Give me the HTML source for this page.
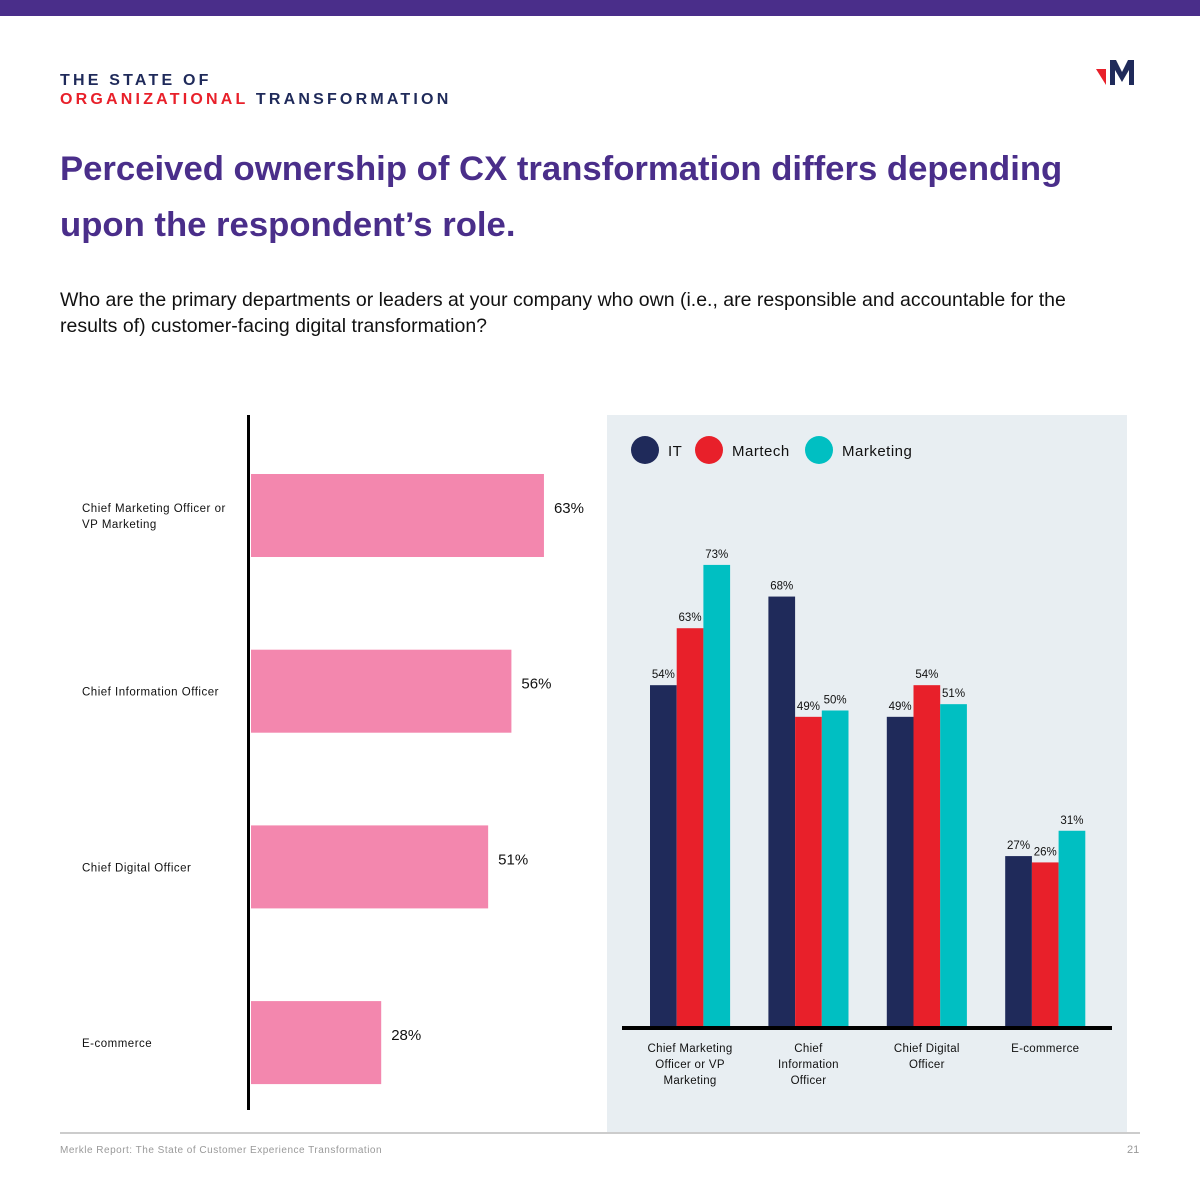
<!DOCTYPE html>
<html><head><meta charset="utf-8"><style>
body{margin:0;width:1200px;height:1200px;background:#fff;font-family:"Liberation Sans",sans-serif;position:relative;overflow:hidden}
.a{position:absolute}
</style></head><body>
<div class="a" style="left:0;top:0;width:1200px;height:16px;background:#4a2e8a"></div>
<div class="a" style="left:60px;top:71px;font-weight:bold;font-size:16px;letter-spacing:3.2px;color:#1f2a5a;line-height:19px">THE STATE OF<br><span style="color:#e8202a">ORGANIZATIONAL</span> TRANSFORMATION</div>
<svg class="a" style="left:1096px;top:60px" width="46" height="26"><polygon points="0,9 10,9 10,25" fill="#e8202a"/><polygon points="14,0 20,0 26,12 32,0 38,0 38,25 33,25 33,10 26,22 19,10 19,25 14,25" fill="#1f2a5a"/></svg>
<div class="a" style="left:60px;top:141px;width:1060px;font-weight:bold;font-size:34.7px;line-height:56px;color:#4a2e8a">Perceived ownership of CX transformation differs depending upon the respondent’s role.</div>
<div class="a" style="left:60px;top:287px;width:1040px;font-size:19.5px;line-height:26px;color:#111">Who are the primary departments or leaders at your company who own (i.e., are responsible and accountable for the results of) customer-facing digital transformation?</div>
<div class="a" style="left:607px;top:415px;width:520px;height:718px;background:#e8eef2"></div>
<div class="a" style="left:60px;top:1132px;width:1080px;height:2px;background:#ccc"></div>
<div class="a" style="left:60px;top:1145px;font-size:10px;color:#999;letter-spacing:0.5px">Merkle Report: The State of Customer Experience Transformation</div>
<div class="a" style="left:1127px;top:1144px;font-size:11px;color:#999">21</div>
<svg class="a" id="c" style="left:0;top:0" width="1200" height="1200"></svg>
<script>
const leftCats=["Chief Marketing Officer or|VP Marketing","Chief Information Officer","Chief Digital Officer","E-commerce"];
const leftVals=[63,56,51,28];
const rightCats=["Chief Marketing|Officer or VP|Marketing","Chief|Information|Officer","Chief Digital|Officer","E-commerce"];
const seriesNames=["IT","Martech","Marketing"];
const itVals=[54,68,49,27];
const martechVals=[63,49,54,26];
const marketingVals=[73,50,51,31];
const colors=["#1f2a5a","#e8202a","#00bfc2"];
const svg=document.getElementById('c');const NS="http://www.w3.org/2000/svg";
function el(t,at,txt){const e=document.createElementNS(NS,t);for(const k in at)e.setAttribute(k,at[k]);if(txt!=null)e.textContent=txt;svg.appendChild(e);return e;}
const lx=v=>251+v*4.65, ly=i=>474+i*175.7;
let e=el('rect',{x:247,y:415,width:3,height:695,fill:'#000'});

leftCats.forEach((c,i)=>{
 const y=ly(i);
 e=el('rect',{x:251,y:y,width:lx(leftVals[i])-251,height:83,fill:'#f387ae'});
 
 e=el('text',{x:lx(leftVals[i])+10,y:y+39,'font-size':15,fill:'#111'},leftVals[i]+'%');
 
 const parts=c.split('|');const y0=y+46-(parts.length-1)*8;
 parts.forEach((p,j)=>{e=el('text',{x:82,y:y0+j*16,'font-size':11.5,fill:'#111','letter-spacing':0.5},p);
 });
});
const base=1027, ry=v=>base-v*6.33, gx=i=>650+i*118.4, bw=26.7;
const all=[itVals,martechVals,marketingVals];
rightCats.forEach((c,i)=>{
 all.forEach((s,k)=>{
  const x=gx(i)+k*bw;
  e=el('rect',{x:x,y:ry(s[i]),width:bw,height:base-ry(s[i]),fill:colors[k]});
  
  e=el('text',{x:x+bw/2,y:ry(s[i])-7,'font-size':11.5,fill:'#111','text-anchor':'middle'},s[i]+'%');
  
 });
 c.split('|').forEach((p,j)=>{e=el('text',{x:gx(i)+bw*1.5,y:1052+j*16,'font-size':11.5,fill:'#111','text-anchor':'middle','letter-spacing':0.3},p);
 });
});
e=el('rect',{x:622,y:1026,width:490,height:4,fill:'#000'});

const lgx=[645,709,819];
seriesNames.forEach((n,k)=>{
 e=el('circle',{cx:lgx[k],cy:450,r:14,fill:colors[k]});
 
 e=el('text',{x:lgx[k]+23,y:456,'font-size':15,fill:'#111','letter-spacing':0.5},n);
 
});
</script>
</body></html>
